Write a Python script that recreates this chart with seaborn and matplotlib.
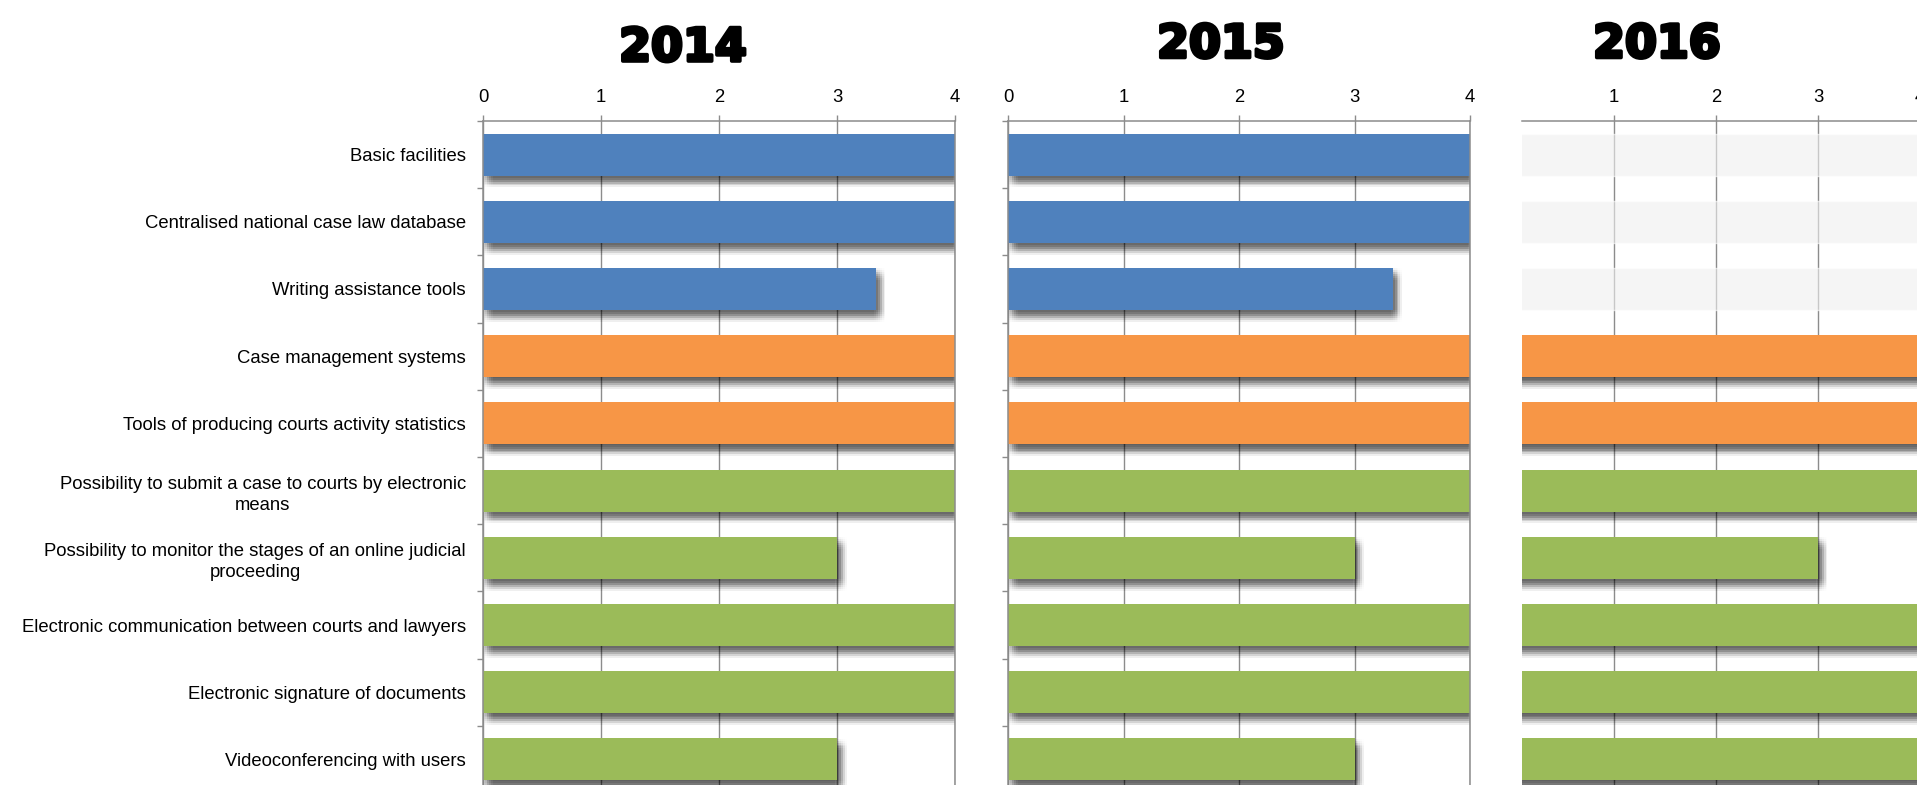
import numpy as np
import pandas as pd
import matplotlib
matplotlib.use("Agg")
import matplotlib.pyplot as plt
import matplotlib.patheffects as pe
import seaborn as sns

# ---------------- data ----------------
categories = [
    "Basic facilities",
    "Centralised national case law database",
    "Writing assistance tools",
    "Case management systems",
    "Tools of producing courts activity statistics",
    "Possibility to submit a case to courts by electronic\nmeans",
    "Possibility to monitor the stages of an online judicial\nproceeding",
    "Electronic communication between courts and lawyers",
    "Electronic signature of documents",
    "Videoconferencing with users",
]
groups = ["Direct assistance"] * 3 + ["Administration"] * 2 + ["Communication"] * 5
years = ["2014", "2015", "2016"]
values_2014 = [4, 4, 3.33, 4, 4, 4, 3, 4, 4, 3]
values_2015 = [4, 4, 3.33, 4, 4, 4, 3, 4, 4, 3]
values_2016 = [None, None, None, 4, 4, 4, 3, 4, 4, 4]
not_available_level = 4
x_ticks = [0, 1, 2, 3, 4]

palette = {
    "Direct assistance": "#4F81BD",
    "Administration": "#F79646",
    "Communication": "#9BBB59",
}
na_color = "#efefef"
grid_color = "#8c8c8c"

# ---------------- layout (pixels) ----------------
W, H = 1917, 785
DPI = 100
panel_px = [(483, 955), (1008, 1470), (1522, 1920)]
xlims = [(0, 4), (0, 4), (0.1, 4.0)]
top_px, bottom_px = 121, 793
title_px = [(683, 61), (1221, 57.5), (1657, 57.5)]   # centre x, baseline y

sns.set_theme(style="white")
plt.rcParams["font.family"] = ["Liberation Sans", "DejaVu Sans"]

fig = plt.figure(figsize=(W / DPI, H / DPI), dpi=DPI)

# soft drop shadow: a gaussian-weighted stack of offset copies
shadow = []
cx, cy, step, sigma = 2.8, -4.4, 1.35, 3.0
offs = [(i, j) for i in range(-3, 4) for j in range(-3, 4)]
weights = np.array([np.exp(-((i * step) ** 2 + (j * step) ** 2) / (2 * sigma ** 2)) for i, j in offs])
weights = weights / weights.sum()
for (i, j), w in zip(offs, weights):
    shadow.append(pe.SimplePatchShadow(offset=(cx + i * step, cy + j * step),
                                       shadow_rgbFace="black", alpha=float(0.85 * w)))
shadow.append(pe.Normal())

all_values = [values_2014, values_2015, values_2016]
for k, (year, vals) in enumerate(zip(years, all_values)):
    l, r = panel_px[k]
    ax = fig.add_axes([l / W, 1 - bottom_px / H, (r - l) / W, (bottom_px - top_px) / H])

    df = pd.DataFrame({"category": categories, "value": vals, "group": groups})
    avail = df.dropna(subset=["value"])
    missing = df[df["value"].isna()].copy()

    if len(missing):
        missing["value"] = not_available_level
        sns.barplot(data=missing, y="category", x="value", order=categories,
                    color=na_color, orient="h", width=0.625, alpha=0.6,
                    saturation=1, ax=ax, errorbar=None)
    n_before = len(ax.patches)
    sns.barplot(data=avail, y="category", x="value", hue="group", order=categories,
                palette=palette, orient="h", width=0.625, dodge=False,
                saturation=1, legend=False, ax=ax, errorbar=None)
    for p in ax.patches[n_before:]:
        p.set_path_effects(shadow)
        p.set_edgecolor("none")

    ax.set_xlabel("")
    ax.set_ylabel("")

    # top x axis
    ax.xaxis.tick_top()
    ax.set_xticks(x_ticks)
    ax.set_xticklabels([str(t) for t in x_ticks])
    ax.set_xlim(*xlims[k])
    ax.set_ylim(len(categories) - 0.5, -0.5)
    ax.tick_params(axis="x", which="major", top=True, bottom=False, direction="out",
                   length=4.3, width=1.0, color=grid_color, pad=6.5,
                   labelsize=13.3, labelcolor="black")
    ax.grid(axis="x", color=grid_color, linewidth=1.0)
    ax.grid(axis="y", visible=False)
    ax.set_axisbelow(True)

    # y axis
    ax.set_yticks(np.arange(len(categories)) - 0.5, minor=True)
    if k == 0:
        ax.set_yticklabels(categories, fontsize=13.3, color="black",
                           multialignment="center", linespacing=1.35)
    else:
        ax.set_yticklabels([])
    ax.tick_params(axis="y", which="major", length=0, pad=12.2)
    ax.tick_params(axis="y", which="minor", left=(k < 2), length=4, width=1.0,
                   color=grid_color)

    ax.spines["bottom"].set_visible(False)
    for side in ["top", "left", "right"]:
        ax.spines[side].set_color(grid_color)
        ax.spines[side].set_linewidth(1.1)
    if k == 2:
        ax.spines["left"].set_visible(False)

    tx, ty = title_px[k]
    fig.text(tx / W, 1 - ty / H, year, ha="center", va="baseline",
             fontsize=33, fontweight="bold", color="black", family="DejaVu Sans",
             path_effects=[pe.withStroke(linewidth=2.6, foreground="black")])

fig.savefig("out.png", dpi=DPI)
